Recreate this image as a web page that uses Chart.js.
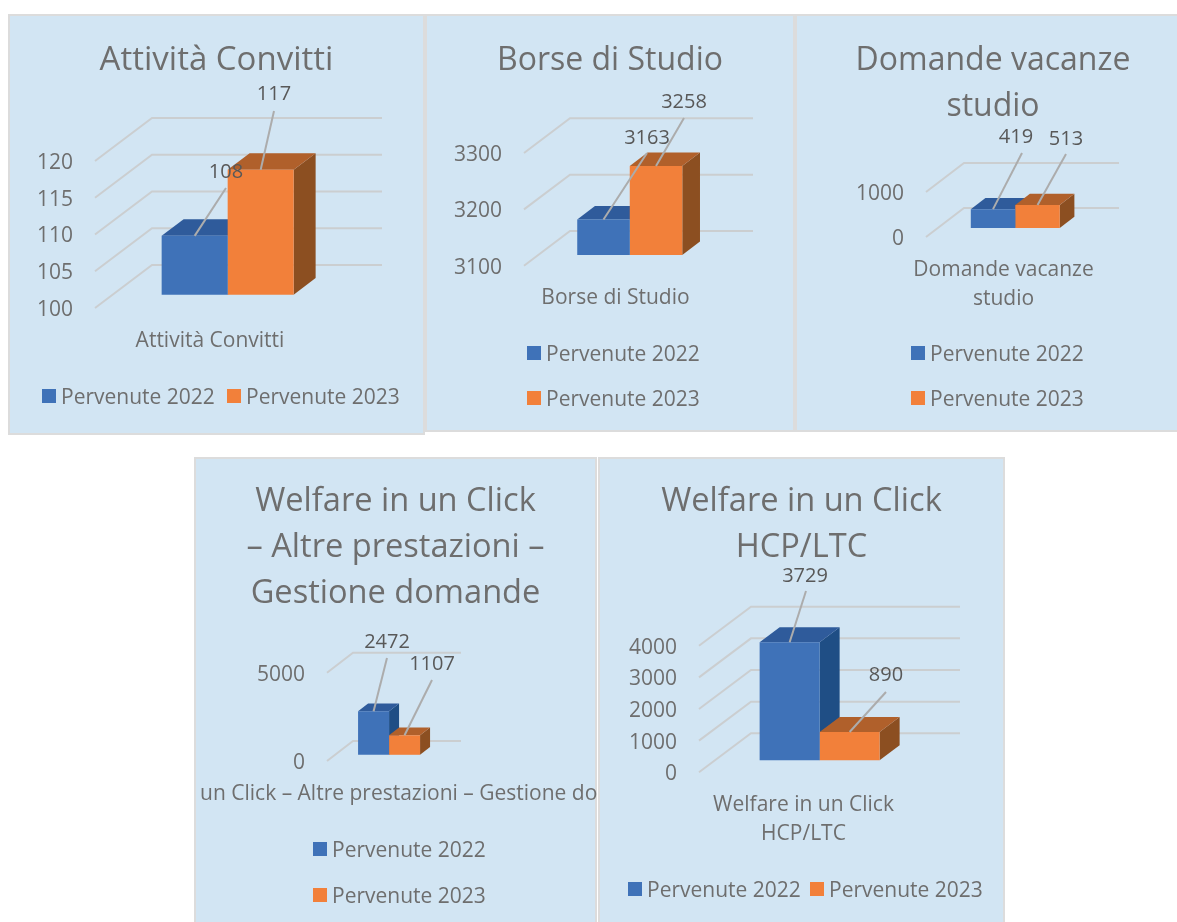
<!DOCTYPE html>
<html lang="it">
<head>
<meta charset="utf-8">
<title>Domande pervenute</title>
<script src="https://cdn.jsdelivr.net/npm/chart.js@4/dist/chart.umd.min.js"></script>
<style>
    html, body { margin: 0; padding: 0; background: #ffffff; overflow: hidden; width: 1177px; height: 922px; }
    .panel { position: absolute; background: #d2e5f3; box-shadow: inset 0 0 0 2px #dcdcdc; }
    .panel canvas { position: absolute; }
    .legend-box { position: absolute; width: 14px; height: 14px; }
    .legend-text { position: absolute; font: 21px "Open Sans"; line-height: 24px; color: #6e6e6e; white-space: nowrap; }
</style>
</head>
<body>
<script>
// -------------------- DATA --------------------
const seriesNames = ["Pervenute 2022", "Pervenute 2023"];
const chartTitles = [
    ["Attività Convitti"],
    ["Borse di Studio"],
    ["Domande vacanze", "studio"],
    ["Welfare in un Click", "– Altre prestazioni –", "Gestione domande"],
    ["Welfare in un Click", "HCP/LTC"]
];
const categories = [
    "Attività Convitti",
    "Borse di Studio",
    ["Domande vacanze", "studio"],
    "un Click – Altre prestazioni – Gestione domande",
    ["Welfare in un Click", "HCP/LTC"]
];
const pervenute2022 = [108, 3163, 419, 2472, 3729];
const pervenute2023 = [117, 3258, 513, 1107, 890];
const axisMin = [100, 3100, 0, 0, 0];
const axisMax = [120, 3300, 1000, 5000, 4000];
const axisStep = [5, 100, 1000, 5000, 1000];

// -------------------- COLORS --------------------
const frontColors = ["#3f72b8", "#f2803a"];
const topColors = ["#2f5b9b", "#b0602b"];
const sideColors = ["#1f4e85", "#8c4f21"];
const wallColor = "#cbced0";
const leaderColor = "#acacac";
const tickColor = "#6e6e6e";
const valueColor = "#585858";
const fontName = "Open Sans";

// -------------------- LAYOUT (page pixels) --------------------
const layouts = [
    {
        box: [8, 14, 417, 421], area: [95, 325, 161, 308], wall: [57, -43], labelPadding: 18,
        values: [[226, 170], [274, 92]], leaders: [[226, 188], [274, 111]],
        legend: [[42, 396], [227, 396]], labelOffset: 0, titleSize: 33, titleTop: 24
    },
    {
        box: [425, 14, 370, 418], area: [524, 707, 153, 265.7], wall: [46, -34.7], labelPadding: 18,
        values: [[647, 136], [684, 100]], leaders: [[647, 153], [684, 118]],
        legend: [[527, 353], [527, 398]], labelOffset: 0, titleSize: 32, titleTop: 24
    },
    {
        box: [795, 14, 396, 418], area: [926, 1081, 192, 237], wall: [38, -29], labelPadding: 18,
        values: [[1016, 135], [1066, 137]], leaders: [[1022, 153], [1066, 154]],
        legend: [[911, 353], [911, 398]], labelOffset: 0, titleSize: 32, titleTop: 24
    },
    {
        box: [194, 457, 403, 480], area: [327, 435, 672.7, 761], wall: [26, -20], labelPadding: 18,
        values: [[387, 640], [432, 662]], leaders: [[387, 658], [432, 680]],
        legend: [[313, 849], [313, 895]], labelOffset: 52, titleSize: 32.6, titleTop: 22
    },
    {
        box: [598, 457, 407, 480], area: [699, 908, 645.7, 772.3], wall: [52, -39], labelPadding: 18,
        values: [[805, 574], [886, 673]], leaders: [[806, 591], [886, 692]],
        legend: [[628, 889], [810, 889]], labelOffset: 0, titleSize: 32.6, titleTop: 22
    }
];

const barCategoryShare = 0.574;
const barStart = 0.31;
const barDepth = 0.385;
const titleLine = 46;
const tickDrop = 2;
const valueDrop = 2;

// -------------------- 3D PLUGIN --------------------
function fillShape(ctx, color, points) {
    ctx.fillStyle = color;
    ctx.beginPath();
    points.forEach((p, i) => i === 0 ? ctx.moveTo(p[0], p[1]) : ctx.lineTo(p[0], p[1]));
    ctx.closePath();
    ctx.fill();
}

function depthPlugin(layout) {
    const [boxX, boxY] = layout.box;
    const [wallX, wallY] = layout.wall;
    const shiftX = wallX * barStart;
    const shiftY = wallY * barStart;
    const depthX = wallX * barDepth;
    const depthY = wallY * barDepth;

    return {
        id: "depthPlugin",

        // the layout padding squeezes the title too, keep it centred on the panel
        afterLayout(chart) {
            chart.titleBlock.left = 0;
            chart.titleBlock.right = chart.width;
        },

        beforeDatasetsDraw(chart) {
            const { ctx, chartArea } = chart;
            const yScale = chart.scales.y;

            // floor edges and back wall lines for every tick
            ctx.save();
            ctx.strokeStyle = wallColor;
            ctx.lineWidth = 2;
            yScale.ticks.forEach(tick => {
                const y = yScale.getPixelForValue(tick.value);
                ctx.beginPath();
                ctx.moveTo(chartArea.left, y);
                ctx.lineTo(chartArea.left + wallX, y + wallY);
                ctx.lineTo(chartArea.right + wallX, y + wallY);
                ctx.stroke();
            });
            ctx.restore();

            // top and side faces, the fronts come from the library
            [0, 1].forEach(i => {
                const bar = chart.getDatasetMeta(i).data[0];
                const left = bar.x - bar.width / 2 + shiftX;
                const right = bar.x + bar.width / 2 + shiftX;
                const top = bar.y + shiftY;
                const base = bar.base + shiftY;
                fillShape(ctx, sideColors[i], [
                    [right, top], [right + depthX, top + depthY],
                    [right + depthX, base + depthY], [right, base]
                ]);
                fillShape(ctx, topColors[i], [
                    [left, top], [left + depthX, top + depthY],
                    [right + depthX, top + depthY], [right, top]
                ]);
            });

            ctx.save();
            ctx.translate(shiftX, shiftY);
        },

        afterDatasetsDraw(chart) {
            const { ctx } = chart;
            ctx.restore();

            ctx.save();
            [0, 1].forEach(i => {
                const bar = chart.getDatasetMeta(i).data[0];
                const value = chart.data.datasets[i].data[0];
                const leader = layout.leaders[i];
                const label = layout.values[i];

                ctx.strokeStyle = leaderColor;
                ctx.lineWidth = 2;
                ctx.beginPath();
                ctx.moveTo(bar.x + shiftX, bar.y + shiftY);
                ctx.lineTo(leader[0] - boxX, leader[1] - boxY);
                ctx.stroke();

                ctx.fillStyle = valueColor;
                ctx.font = `20px "${fontName}"`;
                ctx.textAlign = "center";
                ctx.textBaseline = "middle";
                ctx.fillText(String(value), label[0] - boxX, label[1] - boxY + valueDrop);
            });
            ctx.restore();
        }
    };
}

// -------------------- HTML LEGEND --------------------
function buildLegend(chart, panel, layout) {
    const items = Chart.defaults.plugins.legend.labels.generateLabels(chart);
    items.forEach((item, i) => {
        const [x, y] = layout.legend[i];
        const box = document.createElement("div");
        box.className = "legend-box";
        box.style.background = item.fillStyle;
        box.style.left = (x - layout.box[0]) + "px";
        box.style.top = (y - 7 - layout.box[1]) + "px";
        panel.appendChild(box);

        const text = document.createElement("div");
        text.className = "legend-text";
        text.textContent = item.text;
        text.style.left = (x + 19 - layout.box[0]) + "px";
        text.style.top = (y - 12 - layout.box[1]) + "px";
        panel.appendChild(text);
    });
}

// -------------------- BUILD CHART --------------------
function buildChart(index) {
    const layout = layouts[index];
    const [boxX, boxY, boxW, boxH] = layout.box;
    const [areaLeft, areaRight, areaTop, areaBottom] = layout.area;
    const titleLines = chartTitles[index];
    const base = axisMin[index];

    const panel = document.createElement("div");
    panel.className = "panel";
    panel.style.cssText = `left:${boxX}px;top:${boxY}px;width:${boxW}px;height:${boxH}px`;
    const canvas = document.createElement("canvas");
    canvas.width = boxW;
    canvas.height = boxH;
    canvas.style.cssText = `left:0;top:0;width:${boxW}px;height:${boxH}px`;
    panel.appendChild(canvas);
    document.body.appendChild(panel);

    const chart = new Chart(canvas, {
        type: "bar",
        plugins: [depthPlugin(layout)],
        data: {
            labels: [categories[index]],
            datasets: [
                { label: seriesNames[0], data: [pervenute2022[index]], backgroundColor: frontColors[0], base, clip: false },
                { label: seriesNames[1], data: [pervenute2023[index]], backgroundColor: frontColors[1], base, clip: false }
            ]
        },
        options: {
            responsive: false,
            animation: false,
            categoryPercentage: barCategoryShare,
            barPercentage: 1,
            layout: { padding: { left: 0, top: 0, bottom: 0, right: boxX + boxW - areaRight } },
            plugins: {
                legend: { display: false },
                tooltip: { enabled: false },
                title: {
                    display: true,
                    text: titleLines,
                    color: tickColor,
                    font: { family: fontName, size: layout.titleSize, weight: "normal", lineHeight: titleLine / layout.titleSize },
                    padding: {
                        top: layout.titleTop,
                        bottom: areaTop - boxY - layout.titleTop - titleLines.length * titleLine
                    }
                }
            },
            scales: {
                x: {
                    grid: { display: false, drawTicks: false },
                    border: { display: false },
                    ticks: {
                        color: tickColor,
                        font: { family: fontName, size: 21, lineHeight: 1.4 },
                        padding: layout.labelPadding,
                        labelOffset: layout.labelOffset,
                        maxRotation: 0,
                        minRotation: 0,
                        autoSkip: false
                    },
                    afterFit(scale) {
                        scale.height = boxY + boxH - areaBottom;
                        scale.paddingLeft = 0;
                        scale.paddingRight = 0;
                    }
                },
                y: {
                    min: axisMin[index],
                    max: axisMax[index],
                    grid: { display: false, drawTicks: false },
                    border: { display: false },
                    ticks: {
                        stepSize: axisStep[index],
                        color: tickColor,
                        font: { family: fontName, size: 21 },
                        padding: 22,
                        labelOffset: tickDrop,
                        callback: value => String(value)
                    },
                    afterFit(scale) {
                        scale.width = areaLeft - boxX;
                        scale.paddingTop = 0;
                        scale.paddingBottom = 0;
                    }
                }
            }
        }
    });

    buildLegend(chart, panel, layout);
    return chart;
}

const charts = chartTitles.map((_, i) => buildChart(i));
</script>
</body>
</html>
